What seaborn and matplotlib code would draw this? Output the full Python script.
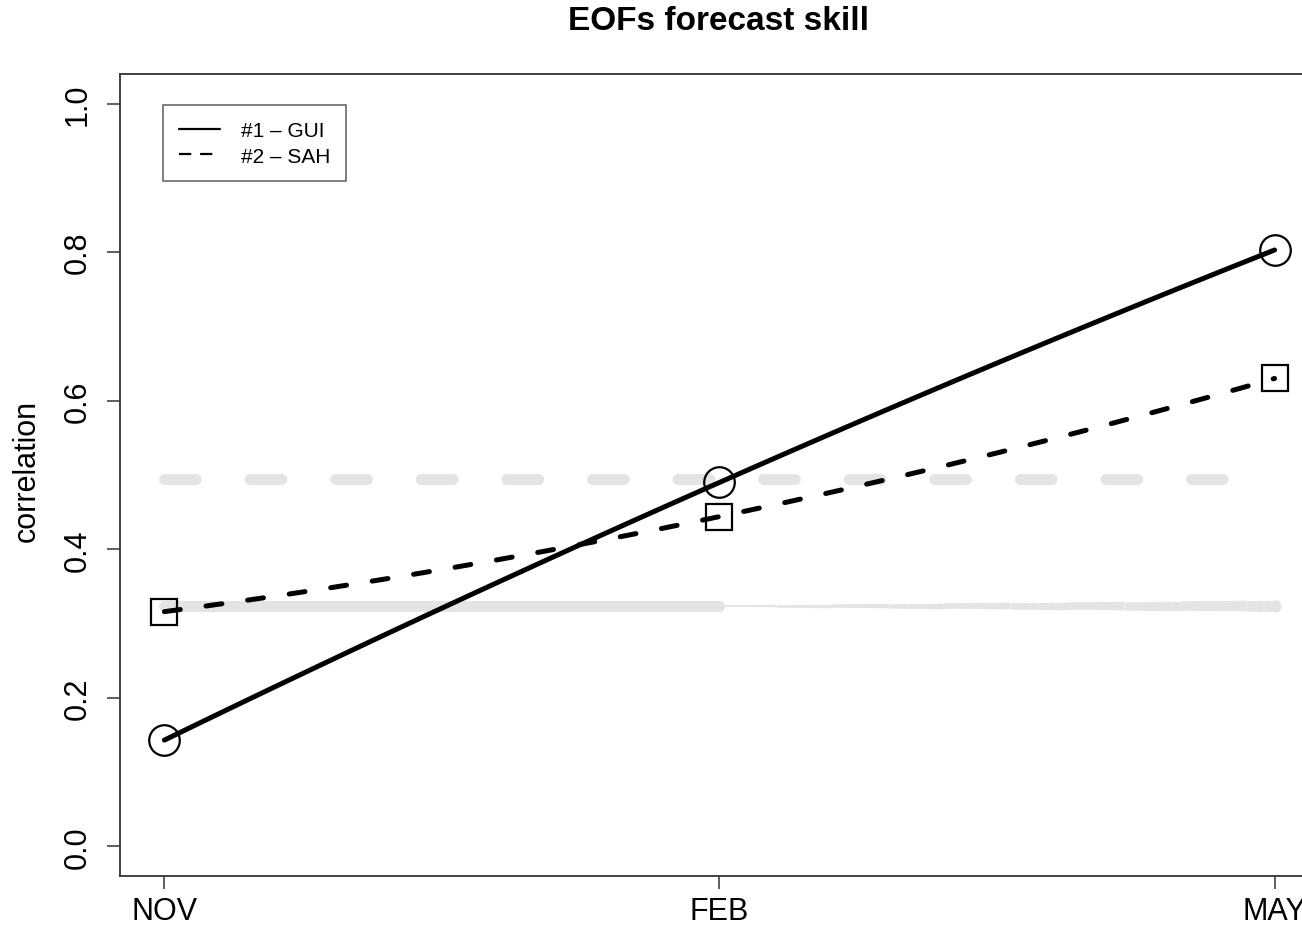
import numpy as np
import pandas as pd
import seaborn as sns
import matplotlib.pyplot as plt
from matplotlib.lines import Line2D
from matplotlib.collections import LineCollection

months = ['NOV', 'FEB', 'MAY']
month_pos = [1, 2, 3]
gui = [0.143, 0.490, 0.803]
sah = [0.316, 0.444, 0.630]
sig_dashed = [0.494, 0.494, 0.494]
sig_solid = [0.324, 0.324, 0.324]
y_ticks = [0.0, 0.2, 0.4, 0.6, 0.8, 1.0]

df = pd.DataFrame({'month': month_pos, 'gui': gui, 'sah': sah,
                   'sig_dashed': sig_dashed, 'sig_solid': sig_solid})

sns.set_style('white')
plt.rcParams['font.family'] = ['Liberation Sans', 'DejaVu Sans']
plt.rcParams['text.color'] = 'black'
plt.rcParams['axes.labelcolor'] = 'black'
plt.rcParams['xtick.color'] = 'black'
plt.rcParams['ytick.color'] = 'black'

fig = plt.figure(figsize=(13.02, 9.28), dpi=100)
ax = fig.add_axes([120 / 1302, 51 / 928, 1199 / 1302, 802 / 928])

gray = '#e4e4e4'
# grey reference levels
sns.lineplot(data=df, x='month', y='sig_dashed', ax=ax, color=gray, lw=7.9,
             dashes=False, linestyle=(0, (2.9, 4.9)), dash_capstyle='round', zorder=1)
sns.lineplot(data=df.iloc[:2], x='month', y='sig_solid', ax=ax, color=gray, lw=7.9,
             solid_capstyle='round', zorder=1)
# tapering part FEB -> MAY
xs = np.linspace(month_pos[1], month_pos[2], 60)
segs = [[(xs[i], sig_solid[1]), (xs[i + 1], sig_solid[2])] for i in range(len(xs) - 1)]
lc = LineCollection(segs, colors=gray, linewidths=np.linspace(1.2, 7.9, len(segs)),
                    capstyle='butt', zorder=1)
ax.add_collection(lc)
ax.plot([month_pos[2]], [sig_solid[2]], 'o', ms=7.9, color=gray, zorder=1)

# forecast skill curves
sns.regplot(data=df, x='month', y='gui', order=2, ci=None, scatter=False, truncate=True,
            ax=ax, color='black', line_kws={'lw': 3.6, 'zorder': 3})
sns.regplot(data=df, x='month', y='sah', order=2, ci=None, scatter=False, truncate=True,
            ax=ax, color='black',
            line_kws={'lw': 3.6, 'linestyle': (0, (3.2, 5.2)), 'dash_capstyle': 'round', 'zorder': 3})
ax.plot(df.month, df.gui, 'o', ms=22, mfc='none', mec='black', mew=1.6, zorder=4)
ax.plot(df.month, df.sah, 's', ms=19, mfc='none', mec='black', mew=1.6, zorder=4)

ax.set_xlim(0.92, 3.08)
ax.set_ylim(-0.04, 1.04)
ax.set_xticks(month_pos)
ax.set_xticklabels(months)
ax.set_yticks(y_ticks)
ax.set_yticklabels([f'{v:.1f}' for v in y_ticks], rotation=90, va='center')
ax.tick_params(axis='both', direction='out', length=9.5, width=1.1, color='#333333',
               labelsize=22, bottom=True, left=True, labelcolor='black')
ax.tick_params(axis='y', pad=10)
ax.tick_params(axis='x', pad=5)
ax.set_xlabel('')
ax.set_ylabel('correlation', fontsize=22, color='black')
ax.yaxis.set_label_coords(-0.065, 0.506)
for s in ax.spines.values():
    s.set_color('#333333')
    s.set_linewidth(1.3)

handles = [Line2D([], [], color='black', lw=1.6),
           Line2D([], [], color='black', lw=1.6, linestyle=(0, (5.5, 4)))]
leg = ax.legend(handles, ['#1 \u2013 GUI', '#2 \u2013 SAH'], loc='upper left',
                bbox_to_anchor=(0.036, 0.961), fontsize=15, frameon=True, fancybox=False,
                handlelength=2.0, handletextpad=1.0, labelspacing=0.32, borderpad=0.75,
                borderaxespad=0)
leg.get_frame().set_edgecolor('#333333')
leg.get_frame().set_linewidth(1.1)
for t in leg.get_texts():
    t.set_color('black')

fig.text(719 / 1302, 1 - 22 / 928, 'EOFs forecast skill', ha='center', va='center',
         fontsize=24, fontweight='bold', color='black')

fig.savefig('out.png', dpi=100)
